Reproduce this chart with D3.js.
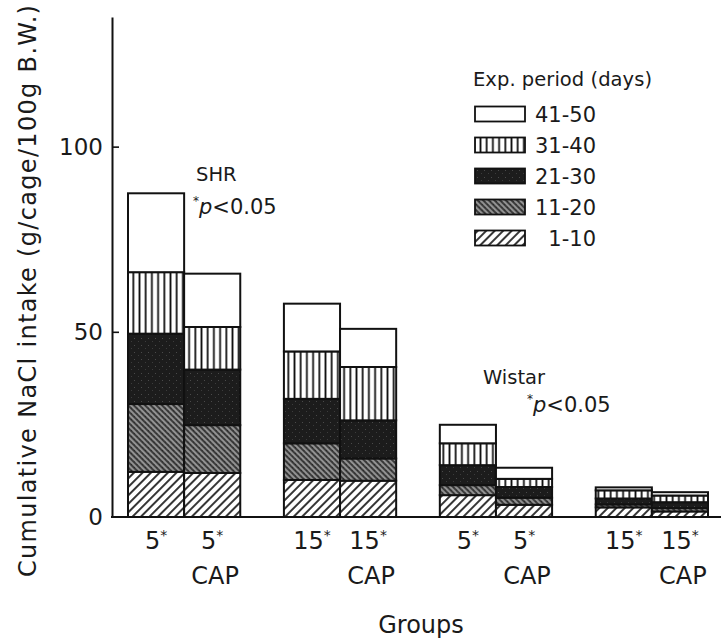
<!DOCTYPE html>
<html>
<head>
<meta charset="utf-8">
<script src="https://cdn.jsdelivr.net/npm/d3@7"></script>
<style>
  html, body { margin: 0; padding: 0; background: #fff; }
  svg { display: block; }
  text { font-family: "DejaVu Sans", sans-serif; fill: #1a1a1a; }
</style>
</head>
<body>
<svg id="chart" width="723" height="640"></svg>
<script>
// Groups: strain x dose pairs, each pair = control and CAP-treated
const groups = ["SHR-5", "SHR-15", "Wistar-5", "Wistar-15"];
const bars = ["SHR-5", "SHR-5-CAP", "SHR-15", "SHR-15-CAP",
              "Wistar-5", "Wistar-5-CAP", "Wistar-15", "Wistar-15-CAP"];
const barGroup = ["SHR-5", "SHR-5", "SHR-15", "SHR-15",
                  "Wistar-5", "Wistar-5", "Wistar-15", "Wistar-15"];
const doseLabels = ["5", "5", "15", "15", "5", "5", "15", "15"];
const capLabels = ["", "CAP", "", "CAP", "", "CAP", "", "CAP"];

// NaCl intake (g/cage/100g B.W.) per experimental period
const periods = ["1-10", "11-20", "21-30", "31-40", "41-50"];
const days1to10  = [12.2, 11.9, 10.0,  9.8, 5.9, 3.3, 2.6, 1.5];
const days11to20 = [18.3, 12.9,  9.9,  6.0, 2.7, 1.9, 0.8, 0.9];
const days21to30 = [19.0, 15.0, 12.0, 10.3, 5.4, 2.9, 1.6, 1.6];
const days31to40 = [16.6, 11.5, 12.8, 14.4, 5.9, 2.2, 2.2, 1.8];
const days41to50 = [21.3, 14.4, 12.9, 10.3, 5.0, 3.0, 0.8, 0.9];
const yTicks = [0, 50, 100];

const series = [days1to10, days11to20, days21to30, days31to40, days41to50];
const rows = bars.map((b, i) => {
  const r = { bar: b, group: barGroup[i], idx: i };
  periods.forEach((p, k) => { r[p] = series[k][i]; });
  return r;
});

const svg = d3.select("#chart");
const defs = svg.append("defs");

// fill patterns for the five periods
function linePattern(id, spacing, angle, bg, fg, w) {
  const p = defs.append("pattern").attr("id", id)
    .attr("patternUnits", "userSpaceOnUse")
    .attr("width", spacing).attr("height", spacing)
    .attr("patternTransform", `rotate(${angle})`);
  p.append("rect").attr("width", spacing).attr("height", spacing).attr("fill", bg);
  p.append("line").attr("x1", spacing / 2).attr("x2", spacing / 2)
    .attr("y1", 0).attr("y2", spacing)
    .attr("stroke", fg).attr("stroke-width", w);
  return p;
}
linePattern("pat-1", 6, 45, "#fff", "#111", 1.7);          // 1-10 diagonal hatch
const p2 = linePattern("pat-2", 4, -45, "#3c3c3c", "#d8d8d8", 1.1); // 11-20 stippled hatch
p2.append("rect").attr("x", 0).attr("y", 1).attr("width", 1).attr("height", 1).attr("fill", "#222");
const p3 = defs.append("pattern").attr("id", "pat-3")
  .attr("patternUnits", "userSpaceOnUse").attr("width", 7).attr("height", 7);
p3.append("rect").attr("width", 7).attr("height", 7).attr("fill", "#1c1c1c");
p3.append("rect").attr("x", 1).attr("y", 2).attr("width", 1).attr("height", 1).attr("fill", "#4a4a4a");
p3.append("rect").attr("x", 5).attr("y", 5).attr("width", 1).attr("height", 1).attr("fill", "#3c3c3c");
linePattern("pat-4", 6.2, 0, "#fff", "#111", 1.8);         // 31-40 vertical lines
const fills = {
  "1-10": "url(#pat-1)", "11-20": "url(#pat-2)", "21-30": "url(#pat-3)",
  "31-40": "url(#pat-4)", "41-50": "#fff"
};

// scales
const y = d3.scaleLinear().domain([0, 135]).range([517, 17]);
const xGroup = d3.scaleBand().domain(groups).range([128, 708])
  .paddingInner(0.28).paddingOuter(0);
const xInner = d3.scaleBand().domain([0, 1]).range([0, xGroup.bandwidth()]).padding(0);
const barX = i => xGroup(barGroup[i]) + xInner(i % 2);

// stacked bars
const stacked = d3.stack().keys(periods)(rows);
const layer = svg.append("g").selectAll("g").data(stacked).join("g")
  .attr("fill", d => fills[d.key]);
layer.selectAll("rect").data(d => d).join("rect")
  .attr("x", d => barX(d.data.idx))
  .attr("width", xInner.bandwidth())
  .attr("y", d => y(d[1]))
  .attr("height", d => y(d[0]) - y(d[1]))
  .attr("stroke", "#111").attr("stroke-width", 2);

// axes
const yAxis = d3.axisLeft(y).tickValues(yTicks).tickSizeInner(-7).tickSizeOuter(0)
  .tickPadding(16).tickFormat(d3.format("d"));
const gy = svg.append("g").attr("transform", "translate(112,0)").call(yAxis);
gy.select(".domain").attr("stroke", "#111").attr("stroke-width", 2);
gy.selectAll(".tick line").attr("stroke", "#111").attr("stroke-width", 1.6);
gy.selectAll(".tick text").attr("font-size", 23).attr("fill", "#1a1a1a")
  .attr("font-family", "DejaVu Sans").attr("x", -9);
gy.selectAll(".tick").filter(d => d === 0).select("line").remove();

svg.append("line").attr("x1", 111).attr("x2", 721)
  .attr("y1", y(0)).attr("y2", y(0))
  .attr("stroke", "#111").attr("stroke-width", 2);

// category labels
const xl = svg.append("g");
bars.forEach((b, i) => {
  const cx = barX(i) + xInner.bandwidth() / 2;
  const t = xl.append("text").attr("x", cx).attr("y", 549)
    .attr("text-anchor", "middle").attr("font-size", 24);
  t.append("tspan").text(doseLabels[i]);
  t.append("tspan").attr("font-size", 14).attr("dy", -9).text("*");
  if (capLabels[i]) {
    xl.append("text").attr("x", cx + 3).attr("y", 584)
      .attr("text-anchor", "middle").attr("font-size", 24).text(capLabels[i]);
  }
});

svg.append("text").attr("x", 421).attr("y", 633).attr("text-anchor", "middle")
  .attr("font-size", 24).text("Groups");

svg.append("text")
  .attr("transform", "translate(36,291) rotate(-90)")
  .attr("text-anchor", "middle").attr("font-size", 24)
  .attr("textLength", 572).attr("lengthAdjust", "spacing")
  .text("Cumulative NaCl intake (g/cage/100g  B.W.)");

// strain annotations
function pNote(x, yb) {
  const t = svg.append("text").attr("x", x).attr("y", yb).attr("font-size", 21);
  t.append("tspan").attr("font-size", 12).attr("dy", -9).text("*");
  t.append("tspan").attr("font-style", "italic").attr("dy", 9).text("p");
  t.append("tspan").text("<0.05");
}
svg.append("text").attr("x", 196).attr("y", 181).attr("font-size", 19.5).text("SHR");
pNote(193, 214);
svg.append("text").attr("x", 483).attr("y", 384).attr("font-size", 19.5).text("Wistar");
pNote(527, 412);

// legend
const lg = svg.append("g");
lg.append("text").attr("x", 473).attr("y", 86).attr("font-size", 19.5)
  .attr("textLength", 179).attr("lengthAdjust", "spacing")
  .text("Exp. period (days)");
const legendOrder = periods.slice().reverse();
legendOrder.forEach((p, k) => {
  const cy = 114 + k * 31;
  lg.append("rect").attr("x", 475).attr("y", cy - 7.5).attr("width", 50).attr("height", 15)
    .attr("fill", fills[p]).attr("stroke", "#111").attr("stroke-width", 1.8);
  lg.append("text").attr("x", 596).attr("y", cy + 8).attr("text-anchor", "end")
    .attr("font-size", 21).text(p);
});
</script>
</body>
</html>
